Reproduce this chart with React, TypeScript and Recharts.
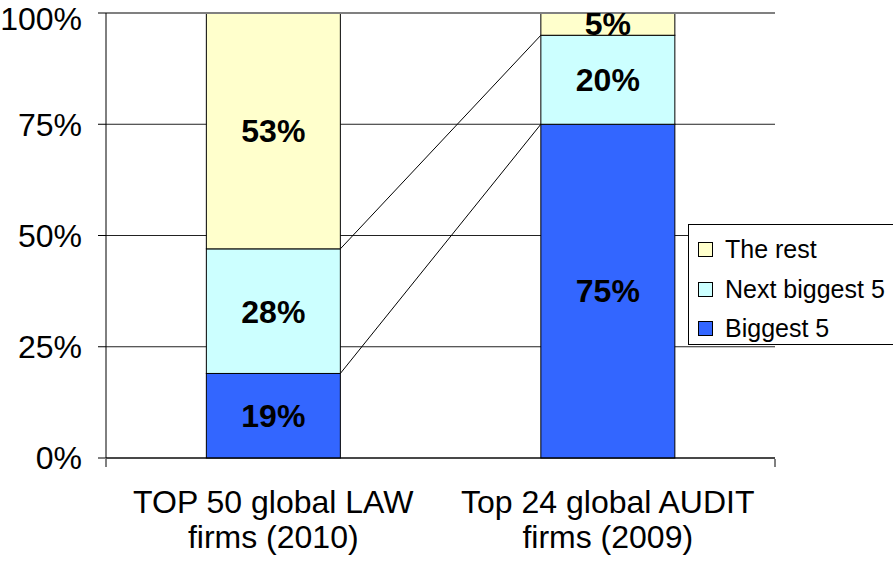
import {
  BarChart, Bar, XAxis, YAxis, CartesianGrid, Legend, LabelList, ReferenceLine
} from 'recharts';

// categories + stacked values (percent of total)
const categories = ['TOP 50 global LAW\nfirms (2010)', 'Top 24 global AUDIT\nfirms (2009)'];
const biggest5 = [19, 75];
const nextBiggest5 = [28, 20];
const theRest = [53, 5];

const seriesNames = ['Biggest 5', 'Next biggest 5', 'The rest'];
const seriesColors = ['#3366FF', '#CCFFFF', '#FFFFCC'];
const yTicks = [0, 25, 50, 75, 100];
const edgeTicks = [0, 1, 2];

const FONT = '"Liberation Sans", Arial, sans-serif';

const data = categories.map((name, i) => ({
  name,
  [seriesNames[0]]: biggest5[i],
  [seriesNames[1]]: nextBiggest5[i],
  [seriesNames[2]]: theRest[i],
}));

// remember where each bar top lands so the next column can draw its series line back to it
const barTops: Record<string, { x: number; y: number; w: number }[]> = {};

function seriesShape(key: string, linked: boolean) {
  return (props: any) => {
    const { x, y, width, height, fill } = props;
    const index = props.index ?? categories.indexOf(props.payload?.name);
    if (!barTops[key]) barTops[key] = [];
    barTops[key][index] = { x, y, w: width };
    const prev = index > 0 ? barTops[key][index - 1] : undefined;
    return (
      <g>
        <rect x={x} y={y} width={width} height={height} fill={fill} stroke="#000" strokeWidth={1} />
        {linked && prev && (
          <line x1={prev.x + prev.w} y1={prev.y} x2={x} y2={y} stroke="#000" strokeWidth={1} />
        )}
      </g>
    );
  };
}

function CategoryTick(props: any) {
  const { x, y, payload } = props;
  const lines = String(payload.value).split('\n');
  return (
    <text x={x} y={y} textAnchor="middle" fill="#000" fontSize={32} fontFamily={FONT}>
      {lines.map((l, i) => (
        <tspan key={i} x={x} dy={i === 0 ? 55 : 35}>{l}</tspan>
      ))}
    </text>
  );
}

function LegendBox(props: any) {
  const items = [...(props.payload || [])].sort(
    (a: any, b: any) => seriesNames.indexOf(b.value) - seriesNames.indexOf(a.value)
  );
  return (
    <div style={{
      border: '1px solid #000', background: '#fff', boxSizing: 'border-box',
      width: 210, height: 121, padding: '5px 0 0 9px', fontFamily: FONT, fontSize: 25,
    }}>
      {items.map((it: any) => (
        <div key={it.value} style={{ display: 'flex', alignItems: 'center', height: 39.5 }}>
          <span style={{
            width: 13, height: 13, background: it.color, border: '1px solid #000',
            display: 'inline-block', marginRight: 12,
          }} />
          <span style={{ color: '#000', lineHeight: 1 }}>{it.value}</span>
        </div>
      ))}
    </div>
  );
}

export default function App() {
  return (
    <div style={{ position: 'absolute', left: 0, top: 0, background: '#fff' }}>
      <BarChart
        width={893}
        height={562}
        data={data}
        margin={{ top: 13, right: 118, bottom: 0, left: 0 }}
        barCategoryGap="30%"
      >
        <CartesianGrid vertical={false} stroke="#222" />
        <XAxis
          dataKey="name"
          height={1}
          axisLine={{ stroke: '#000' }}
          tickLine={false}
          tickSize={0}
          tickMargin={0}
          interval={0}
          tick={<CategoryTick />}
        />
        <XAxis
          xAxisId="edges"
          type="number"
          domain={[0, 2]}
          ticks={edgeTicks}
          allowDataOverflow
          height={103}
          tick={{ fontSize: 0, fill: 'none' }}
          tickFormatter={() => ''}
          tickSize={8}
          axisLine={false}
          tickLine={{ stroke: '#000' }}
        />
        <YAxis
          width={106}
          domain={[0, 100]}
          ticks={yTicks}
          tickFormatter={(v: number) => `${v}%`}
          tickSize={8}
          tickMargin={16}
          axisLine={{ stroke: '#000' }}
          tickLine={{ stroke: '#000' }}
          tick={{ fill: '#000', fontSize: 32, fontFamily: FONT }}
        />
        <ReferenceLine y={100} stroke="#808080" strokeWidth={2} />
        <ReferenceLine x={2} xAxisId="edges" stroke="#808080" strokeWidth={2} />
        <Legend
          layout="vertical"
          align="center"
          verticalAlign="middle"
          content={<LegendBox />}
          wrapperStyle={{ left: 688, top: 224, width: 210, height: 121 }}
        />
        {seriesNames.map((s, i) => (
          <Bar
            key={s}
            dataKey={s}
            stackId="a"
            fill={seriesColors[i]}
            isAnimationActive={false}
            shape={seriesShape(s, i < 2)}
          >
            <LabelList
              dataKey={s}
              position="center"
              formatter={(v: any) => `${v}%`}
              fill="#000"
              fontSize={32}
              fontWeight="bold"
              fontFamily={FONT}
            />
          </Bar>
        ))}
      </BarChart>
    </div>
  );
}
